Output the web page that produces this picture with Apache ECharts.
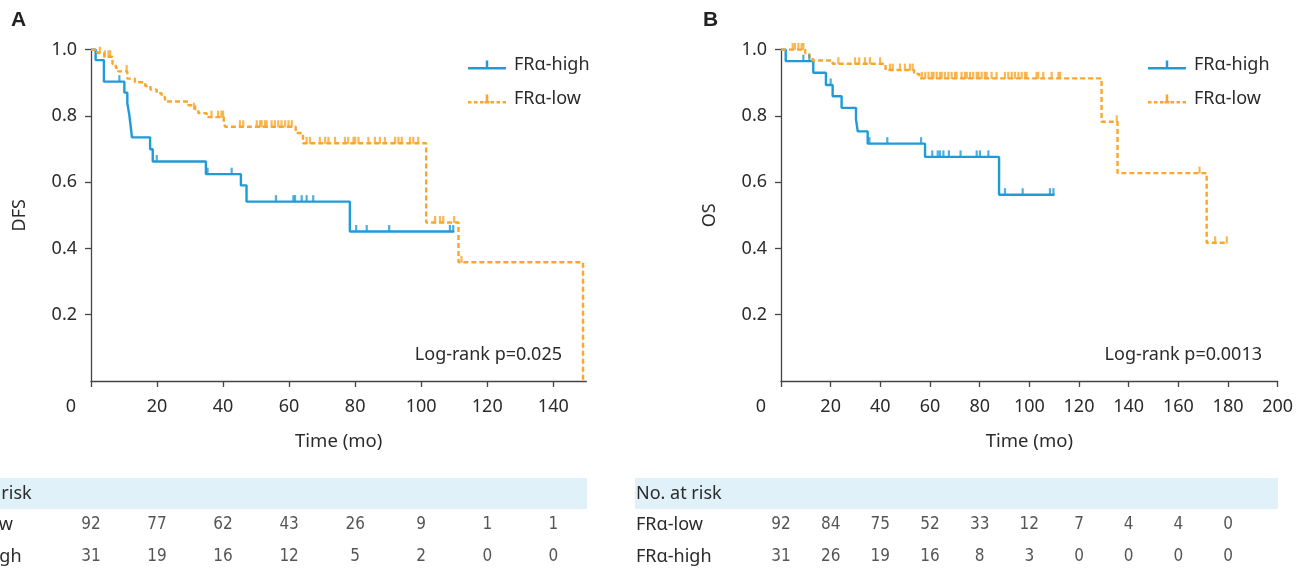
<!DOCTYPE html>
<html><head><meta charset="utf-8">
<script src="https://cdn.jsdelivr.net/npm/echarts@6/dist/echarts.min.js"></script>
<style>html,body{margin:0;padding:0;background:#fff;}#c{width:1310px;height:568px;}</style>
</head><body><div id="c"></div>
<script>
// ---------- data ----------
const xTicksA = [0, 20, 40, 60, 80, 100, 120, 140];
const xTicksB = [0, 20, 40, 60, 80, 100, 120, 140, 160, 180, 200];
const riskTimesA = [0, 20, 40, 60, 80, 100, 120, 140];
const riskLowA = [92, 77, 62, 43, 26, 9, 1, 1];
const riskHighA = [31, 19, 16, 12, 5, 2, 0, 0];
const riskTimesB = [0, 20, 40, 60, 80, 100, 120, 140, 160, 180];
const riskLowB = [92, 84, 75, 52, 33, 12, 7, 4, 4, 0];
const riskHighB = [31, 26, 19, 16, 8, 3, 0, 0, 0, 0];
const groupNames = ['FRα-high', 'FRα-low'];
const rowNames = ['FRα-low', 'FRα-high'];

// DFS (panel A) step curves [time, survival]
const dfsHigh = [[0,1],[1.4,0.968],[3.9,0.903],[10.1,0.870],[11.0,0.838],[11.6,0.803],[12.0,0.770],[12.4,0.735],[17.9,0.699],[18.7,0.662],[34.8,0.624],[45.4,0.590],[47.1,0.541],[78.4,0.451],[110.0,0.451]];
const dfsHighCens = [[8.6,0.903],[19.9,0.662],[35.3,0.624],[42.6,0.624],[56.0,0.541],[61.3,0.541],[61.8,0.541],[63.8,0.541],[65.3,0.541],[67.3,0.541],[80.3,0.451],[83.5,0.451],[90.3,0.451],[108.7,0.451],[109.7,0.451]];
const dfsLow = [[0,1],[2.0,0.989],[4.0,0.978],[6.5,0.956],[7.5,0.945],[8.2,0.934],[11.0,0.912],[13.3,0.901],[16.4,0.890],[18.0,0.879],[19.9,0.868],[21.4,0.857],[22.4,0.843],[29.5,0.832],[31.5,0.820],[32.5,0.808],[35.0,0.796],[40.2,0.781],[40.6,0.767],[62.0,0.748],[64.2,0.717],[101.5,0.478],[111.3,0.358],[149.0,0]];
const dfsLowCens = [[2.7,0.989],[4.2,0.978],[5.3,0.978],[5.8,0.978],[10.8,0.934],[31.2,0.820],[36.5,0.796],[38.5,0.796],[39.5,0.796],[40.0,0.796],
  [45.1,0.767],[46.1,0.767],[50.2,0.767],[51.2,0.767],[51.7,0.767],[52.7,0.767],[53.2,0.767],[54.7,0.767],[55.7,0.767],[56.7,0.767],[57.7,0.767],[58.8,0.767],[59.8,0.767],[60.8,0.767],
  [65.3,0.717],[66.3,0.717],[69.3,0.717],[70.9,0.717],[71.9,0.717],[73.9,0.717],[76.9,0.717],[77.9,0.717],[79.5,0.717],[80.0,0.717],[81.0,0.717],[84.0,0.717],[86.0,0.717],[87.5,0.717],[89.0,0.717],[92.1,0.717],[93.1,0.717],[94.1,0.717],[96.6,0.717],[97.6,0.717],[99.1,0.717],
  [104.2,0.478],[105.7,0.478],[106.7,0.478],[110.0,0.478],[112.2,0.358]];

// OS (panel B) step curves [time, survival]
const osHigh = [[0,1],[1.9,0.965],[13.0,0.930],[18.1,0.893],[20.8,0.859],[24.4,0.824],[30.2,0.789],[30.9,0.753],[34.9,0.716],[58.0,0.676],[87.8,0.562],[110.1,0.562]];
const osHighCens = [[9.0,0.965],[11.4,0.965],[20.0,0.893],[35.6,0.716],[42.8,0.716],[56.4,0.716],[60.9,0.676],[63.1,0.676],[64.0,0.676],[65.4,0.676],[67.6,0.676],[72.3,0.676],[78.8,0.676],[80.1,0.676],[83.5,0.676],[90.2,0.562],[97.3,0.562],[108.3,0.562],[109.7,0.562]];
const osLow = [[0,1],[9.7,0.989],[11.4,0.978],[12.7,0.967],[20.8,0.957],[42.1,0.938],[53.6,0.926],[55.7,0.913],[129.1,0.782],[135.5,0.627],[171.4,0.417],[179.5,0.417]];
const osLowCens = [[4.7,1],[5.6,1],[7.0,1],[8.3,1],[9.0,1],
  [23.1,0.957],[29.8,0.957],[31.5,0.957],[33.8,0.957],[35.8,0.957],[39.9,0.957],
  [43.9,0.938],[45.0,0.938],[47.9,0.938],[49.9,0.938],[51.9,0.938],[53.0,0.938],
  [56.7,0.913],[58.1,0.913],[59.4,0.913],[60.7,0.913],[61.4,0.913],[62.7,0.913],[64.0,0.913],[64.7,0.913],[66.0,0.913],[67.4,0.913],[68.7,0.913],[70.1,0.913],[70.7,0.913],[72.7,0.913],[74.1,0.913],[74.8,0.913],[76.1,0.913],[77.4,0.913],[78.8,0.913],[79.5,0.913],[80.8,0.913],[82.1,0.913],[82.8,0.913],[84.8,0.913],[86.8,0.913],[90.2,0.913],[91.5,0.913],[92.9,0.913],[94.2,0.913],[95.6,0.913],[96.9,0.913],[98.3,0.913],[98.9,0.913],[102.9,0.913],[103.6,0.913],[105.6,0.913],[109.0,0.913],[111.7,0.913],[112.4,0.913],
  [135.2,0.782],[168.5,0.627],[174.8,0.417],[179.5,0.417]];

// ---------- style ----------
const FONT = "'Noto Sans', 'Open Sans', sans-serif";
const NUMFONT = "'Liberation Sans Narrow', 'DejaVu Sans Condensed', 'Noto Sans', sans-serif";
const BLUE = '#1f9bd7';
const ORANGE = '#f9a62b';
const TXT = '#2b2b2b';
const AXC = '#444444';
const BAND = '#e0f1f9';

const iconHigh = 'path://M0,6.5h38v2.5H0z M17.75,0h2.5v9h-2.5z';
const iconLow = 'path://M0,6.5h3.5v2.5H0z M6,6.5h3.5v2.5H6z M12,6.5h3.5v2.5H12z M16.5,6.5h5v2.5h-5z M17.75,0h2.5v9h-2.5z M22.5,6.5h3.5v2.5h-3.5z M28.5,6.5h3.5v2.5h-3.5z M34.5,6.5h3.5v2.5h-3.5z';

const chart = echarts.init(document.getElementById('c'), null, {renderer: 'canvas'});

function xAxisMain(gridIndex, max, ticks) {
  return {
    type: 'value', gridIndex, min: 0, max, interval: 20,
    name: 'Time (mo)', nameLocation: 'middle', nameGap: 51,
    nameTextStyle: {fontFamily: FONT, fontSize: 18.5, color: TXT},
    axisLine: {show: true, onZero: false, lineStyle: {color: AXC, width: 1.3}},
    axisTick: {show: true, length: 6, customValues: ticks, lineStyle: {color: AXC, width: 1.3}},
    axisLabel: {
      customValues: ticks, margin: 17, fontFamily: FONT, fontSize: 18, color: TXT,
      formatter: v => (v === 0 ? '{o|0}' : String(v)),
      rich: {o: {padding: [0, 40, 0, 0], fontFamily: FONT, fontSize: 18, color: TXT}}
    },
    splitLine: {show: false}
  };
}
function yAxisMain(gridIndex, name) {
  return {
    type: 'value', gridIndex, min: 0, max: 1, interval: 0.2,
    name, nameLocation: 'middle', nameGap: 62,
    nameTextStyle: {fontFamily: FONT, fontSize: 18, color: TXT},
    axisLine: {show: true, lineStyle: {color: AXC, width: 1.3}},
    axisTick: {show: true, length: 6, lineStyle: {color: AXC, width: 1.3}},
    axisLabel: {showMinLabel: false, margin: 14, fontFamily: FONT, fontSize: 18, color: TXT,
      formatter: v => v.toFixed(1)},
    splitLine: {show: false}
  };
}
function curve(name, data, color, dashed, xi, yi) {
  return {
    type: 'line', name, data, step: 'end', xAxisIndex: xi, yAxisIndex: yi,
    symbol: 'none', lineStyle: {color, width: 2.4, type: dashed ? [5, 3] : 'solid'},
    itemStyle: {color}, z: 3, animation: false
  };
}
function cens(name, data, color, xi, yi) {
  return {
    type: 'scatter', name, data, xAxisIndex: xi, yAxisIndex: yi,
    symbol: 'rect', symbolSize: [2.2, 7], symbolOffset: [0, -3],
    itemStyle: {color}, z: 4, clip: false, animation: false
  };
}
// table rows: row index 0 (FRα-low) and 1 (FRα-high) on a value axis
function riskSeries(times, vals, row, xi, yi) {
  return {
    type: 'scatter', data: times.map((t, i) => [t, row, vals[i]]),
    xAxisIndex: xi, yAxisIndex: yi, symbolSize: 1, itemStyle: {color: 'rgba(0,0,0,0)'},
    label: {show: true, position: 'inside', formatter: p => String(p.value[2]),
      fontFamily: NUMFONT, fontSize: 17, color: TXT},
    silent: true, clip: false, animation: false
  };
}
function legendFor(left) {
  return {
    left, top: 56, padding: 0, orient: 'vertical', itemWidth: 38, itemHeight: 9, itemGap: 16,
    selectedMode: false,
    textStyle: {fontFamily: FONT, fontSize: 18, color: TXT, padding: [5, 0, 0, 3]},
    data: [
      {name: groupNames[0], icon: iconHigh, itemStyle: {color: BLUE}},
      {name: groupNames[1], icon: iconLow, itemStyle: {color: ORANGE}}
    ]
  };
}
function tableYAxis(gridIndex) {
  return {type: 'value', gridIndex, min: -1.5, max: 1.25, inverse: true, show: false};
}

const option = {
  backgroundColor: '#ffffff',
  animation: false,
  grid: [
    {left: 91, top: 49.5, width: 495.3, height: 331.5},
    {left: 781, top: 49.5, width: 496.7, height: 331.5},
    {left: 91, top: 477, width: 495.3, height: 88},
    {left: 781, top: 477, width: 496.7, height: 88}
  ],
  xAxis: [
    xAxisMain(0, 150, xTicksA),
    xAxisMain(1, 200, xTicksB),
    {type: 'value', gridIndex: 2, min: 0, max: 150, show: false},
    {type: 'value', gridIndex: 3, min: 0, max: 200, show: false}
  ],
  yAxis: [
    yAxisMain(0, 'DFS'),
    yAxisMain(1, 'OS'),
    tableYAxis(2),
    tableYAxis(3)
  ],
  legend: [legendFor(468), legendFor(1148)],
  graphic: [
    {type: 'rect', shape: {x: -10, y: 478, width: 597, height: 31}, style: {fill: BAND}, z: 0},
    {type: 'rect', shape: {x: 635, y: 478, width: 643, height: 31}, style: {fill: BAND}, z: 0},
    {type: 'text', x: 11, y: 20, style: {text: 'A', font: "bold 21px 'Liberation Sans', Arial, sans-serif", fill: '#222', verticalAlign: 'middle'}},
    {type: 'text', x: 703, y: 20, style: {text: 'B', font: "bold 21px 'Liberation Sans', Arial, sans-serif", fill: '#222', verticalAlign: 'middle'}},
    {type: 'text', x: 562, y: 355, style: {text: 'Log-rank p=0.025', font: "18px " + FONT, fill: TXT, align: 'right', verticalAlign: 'middle'}},
    {type: 'text', x: 1262, y: 355, style: {text: 'Log-rank p=0.0013', font: "18px " + FONT, fill: TXT, align: 'right', verticalAlign: 'middle'}},
    {type: 'text', x: -54, y: 494, style: {text: 'No. at risk', font: "18px " + FONT, fill: TXT, verticalAlign: 'middle'}, z: 2},
    {type: 'text', x: 636, y: 494, style: {text: 'No. at risk', font: "18px " + FONT, fill: TXT, verticalAlign: 'middle'}, z: 2},
    {type: 'text', x: -54, y: 525, style: {text: rowNames[0], font: "18px " + FONT, fill: TXT, verticalAlign: 'middle'}},
    {type: 'text', x: -54, y: 557, style: {text: rowNames[1], font: "18px " + FONT, fill: TXT, verticalAlign: 'middle'}},
    {type: 'text', x: 636, y: 525, style: {text: rowNames[0], font: "18px " + FONT, fill: TXT, verticalAlign: 'middle'}},
    {type: 'text', x: 636, y: 557, style: {text: rowNames[1], font: "18px " + FONT, fill: TXT, verticalAlign: 'middle'}}
  ],
  series: [
    curve(groupNames[0], dfsHigh, BLUE, false, 0, 0),
    curve(groupNames[1], dfsLow, ORANGE, true, 0, 0),
    cens(groupNames[0], dfsHighCens, BLUE, 0, 0),
    cens(groupNames[1], dfsLowCens, ORANGE, 0, 0),
    curve(groupNames[0], osHigh, BLUE, false, 1, 1),
    curve(groupNames[1], osLow, ORANGE, true, 1, 1),
    cens(groupNames[0], osHighCens, BLUE, 1, 1),
    cens(groupNames[1], osLowCens, ORANGE, 1, 1),
    riskSeries(riskTimesA, riskLowA, 0, 2, 2),
    riskSeries(riskTimesA, riskHighA, 1, 2, 2),
    riskSeries(riskTimesB, riskLowB, 0, 3, 3),
    riskSeries(riskTimesB, riskHighB, 1, 3, 3)
  ]
};
chart.setOption(option);
</script></body></html>
